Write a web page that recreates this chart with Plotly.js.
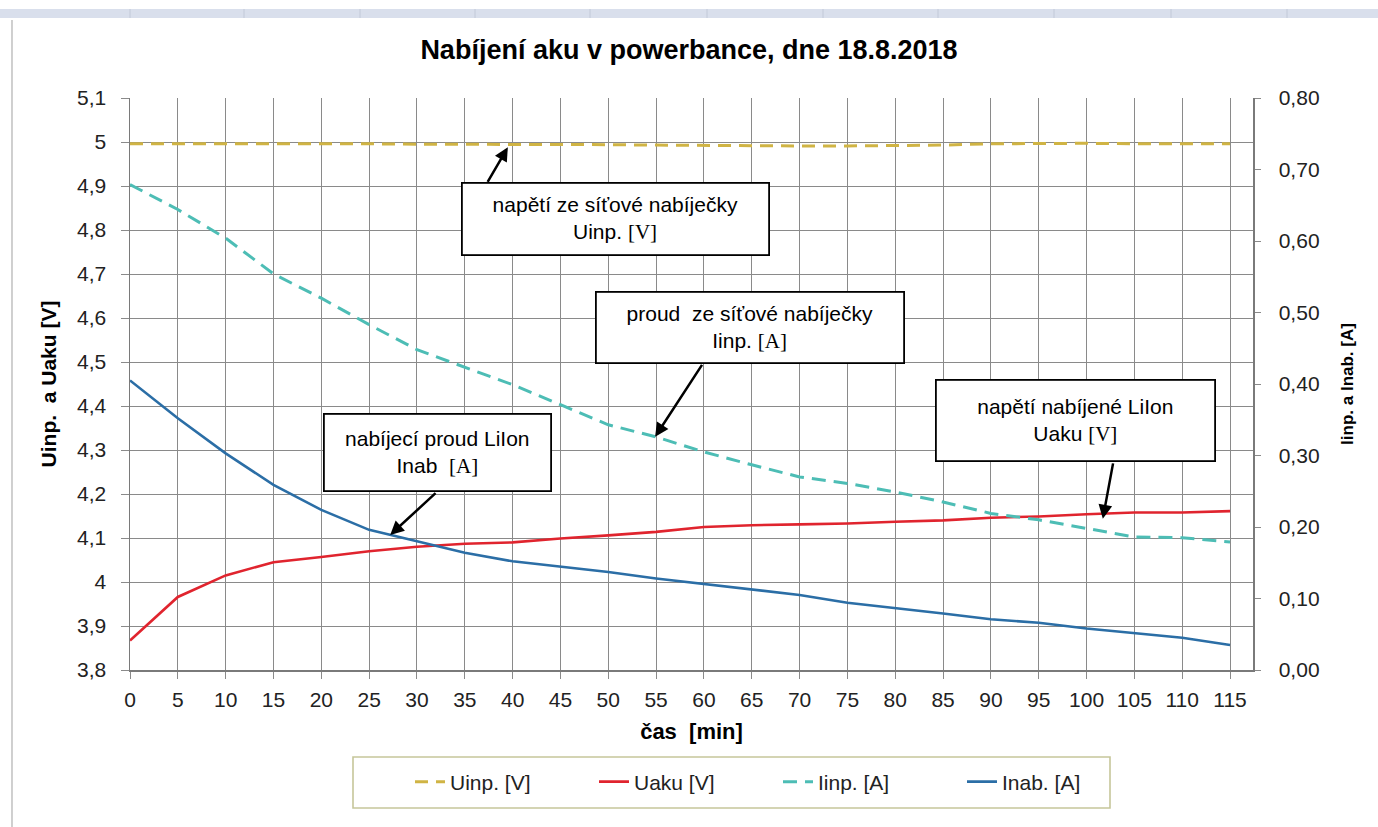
<!DOCTYPE html>
<html>
<head>
<meta charset="utf-8">
<script src="https://cdn.plot.ly/plotly-3.0.1.min.js"></script>
<style>html,body{margin:0;padding:0;background:#fff;}#chart{width:1378px;height:827px;}</style>
</head>
<body>
<div id="chart"></div>
<script>
// ---- data ----
const casMin = [0,5,10,15,20,25,30,35,40,45,50,55,60,65,70,75,80,85,90,95,100,105,110,115];
const uinp = [4.996,4.996,4.997,4.997,4.997,4.996,4.995,4.995,4.995,4.995,4.994,4.993,4.992,4.992,4.991,4.991,4.992,4.993,4.996,4.997,4.997,4.996,4.996,4.996];
const uaku = [3.867,3.966,4.015,4.045,4.057,4.070,4.080,4.087,4.090,4.099,4.106,4.114,4.125,4.129,4.131,4.133,4.137,4.140,4.146,4.149,4.154,4.158,4.158,4.161];
const iinp = [0.679,0.644,0.604,0.554,0.520,0.483,0.448,0.424,0.399,0.371,0.343,0.326,0.305,0.287,0.270,0.261,0.249,0.235,0.219,0.210,0.198,0.186,0.185,0.179];
const inab = [0.405,0.352,0.303,0.259,0.224,0.196,0.180,0.164,0.152,0.145,0.137,0.128,0.120,0.113,0.105,0.094,0.087,0.079,0.071,0.066,0.058,0.051,0.045,0.035];
const seriesNames = ['Uinp. [V]','Uaku [V]','Iinp. [A]','Inab. [A]'];
const xTicks = [0,5,10,15,20,25,30,35,40,45,50,55,60,65,70,75,80,85,90,95,100,105,110,115];

const FONT = '"Liberation Sans", Arial, sans-serif';
const SERIF = "'Liberation Serif', 'Times New Roman', serif";

// pixel -> paper helpers (layout only)
const L=130, R=1253, T=98, B=670;
const px = v => (v-L)/(R-L);
const py = v => (B-v)/(B-T);

const traces = [
  {x:casMin, y:uinp, name:seriesNames[0], mode:'lines', yaxis:'y', line:{color:'#d0b444', width:3, dash:'13px,8px'}},
  {x:casMin, y:uaku, name:seriesNames[1], mode:'lines', yaxis:'y', line:{color:'#e0242e', width:2.6}},
  {x:casMin, y:iinp, name:seriesNames[2], mode:'lines', yaxis:'y2', line:{color:'#4dbdb5', width:3, dash:'14px,8px'}},
  {x:casMin, y:inab, name:seriesNames[3], mode:'lines', yaxis:'y2', line:{color:'#2b6ea6', width:2.6}}
];

function box(x, y, w, h, html){
  return {x:x, y:y, xref:'x', yref:'y', text:html, showarrow:false, width:w, height:h,
    bgcolor:'#ffffff', bordercolor:'#000000', borderwidth:1.8, borderpad:0,
    font:{family:FONT, size:21, color:'#000'}, align:'center', valign:'middle'};
}
function arrow(tx, ty, fx, fy){
  return {x:tx, y:ty, ax:fx, ay:fy, xref:'x', yref:'y', axref:'x', ayref:'y', text:'',
    showarrow:true, arrowhead:2, arrowsize:1.1, arrowwidth:2.5, arrowcolor:'#000'};
}
const sv = s => '<span style="font-family:'+SERIF+'">'+s+'</span>';

const annotations = [
  arrow(39.5, 4.988, 37.3, 4.906),
  arrow(54.9, 4.330, 59.9, 4.497),
  arrow(27.2, 4.107, 32.1, 4.205),
  arrow(101.7, 4.144, 102.8, 4.273),
  box(50.8, 4.8245, 305, 70, 'napětí ze síťové nabíječky<br>Uinp. '+sv('[V]')),
  box(64.8, 4.579, 306, 69, 'proud  ze síťové nabíječky<br>Iinp. '+sv('[A]')),
  box(32.1, 4.294, 225, 75, 'nabíjecí proud LiIon<br>Inab  '+sv('[A]')),
  box(98.8, 4.367, 277, 79, 'napětí nabíjené LiIon<br>Uaku '+sv('[V]'))
];

const stripSeps = [130,244,360,475,590,707,823,938,1054,1171,1287];
const shapes = [
  {type:'rect', xref:'paper', yref:'paper', x0:px(0), x1:px(1378), y0:py(18), y1:py(9), fillcolor:'#d9dfec', line:{width:0}, layer:'above'},
  {type:'line', xref:'paper', yref:'paper', x0:px(12), x1:px(12), y0:py(20), y1:py(827), line:{color:'#b0b0b0', width:1.2}},
  {type:'rect', xref:'paper', yref:'paper', x0:px(353), x1:px(1110), y0:py(808), y1:py(757), fillcolor:'rgba(0,0,0,0)', line:{color:'#c6c69a', width:1.6}}
].concat(stripSeps.map(s => ({type:'line', xref:'paper', yref:'paper', x0:px(s), x1:px(s), y0:py(18), y1:py(9), line:{color:'#c2c9d8', width:1}, layer:'above'})));

const axFont = {family:FONT, size:21, color:'#222'};
const layout = {
  width:1378, height:827,
  margin:{l:L, r:1378-R, t:T, b:827-B},
  paper_bgcolor:'#fff', plot_bgcolor:'#fff',
  separators:', ',
  font:{family:FONT, size:20, color:'#222'},
  title:{text:'<b>Nabíjení aku v powerbance, dne 18.8.2018</b>', x:0.5, xref:'container', y:1-50/827, yref:'container', yanchor:'middle', font:{family:FONT, size:27, color:'#000'}},
  xaxis:{range:[0,117.4], tickmode:'array', tickvals:xTicks, showgrid:true, gridcolor:'#8a8a8a', gridwidth:1, showline:true, linecolor:'#7a7a7a', linewidth:1.5,
    ticks:'outside', ticklen:7, tickcolor:'#8a8a8a', zeroline:false, tickfont:axFont, ticklabelstandoff:3,
    title:{text:'<b>čas  [min]</b>', font:{family:FONT, size:22, color:'#000'}, standoff:14}},
  yaxis:{range:[3.8,5.1], dtick:0.1, tick0:3.8, showgrid:true, gridcolor:'#8a8a8a', gridwidth:1, showline:true, linecolor:'#7a7a7a', linewidth:1.5,
    ticks:'outside', ticklen:8, tickcolor:'#8a8a8a', zeroline:false, tickfont:axFont, ticklabelstandoff:10,
    title:{text:'<b>Uinp.  a Uaku [V]</b>', font:{family:FONT, size:21, color:'#000'}, standoff:14}},
  yaxis2:{range:[0,0.8], dtick:0.1, tick0:0, tickformat:'.2f', overlaying:'y', side:'right', showgrid:false, showline:true, linecolor:'#7a7a7a', linewidth:1.5,
    ticks:'outside', ticklen:6, tickcolor:'#8a8a8a', zeroline:false, tickfont:axFont, ticklabelstandoff:14,
    title:{text:'<b>Iinp. a Inab. [A]</b>', font:{family:FONT, size:17, color:'#000'}, standoff:22}},
  legend:{orientation:'h', x:px(410), xanchor:'left', y:py(782), yanchor:'middle', borderwidth:0, bgcolor:'rgba(0,0,0,0)',
    font:{family:FONT, size:21, color:'#222'}, entrywidth:139, itemwidth:30},
  annotations:annotations,
  shapes:shapes,
  showlegend:true
};

Plotly.newPlot('chart', traces, layout, {displayModeBar:false, staticPlot:true});
</script>
</body>
</html>
